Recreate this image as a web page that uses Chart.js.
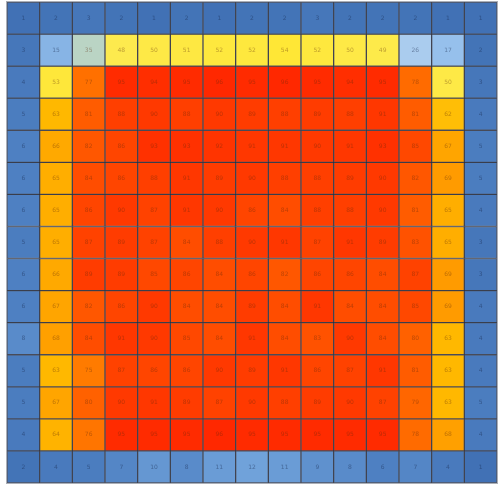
<!DOCTYPE html>
<html>
<head>
<meta charset="utf-8">
<title>Heatmap</title>
<script src="https://cdn.jsdelivr.net/npm/chart.js@4.4.1/dist/chart.umd.min.js"></script>
<style>
  html, body { margin: 0; padding: 0; background: #fff; }
  #wrap { width: 502px; height: 486px; position: relative; }
</style>
</head>
<body>
<div id="wrap"><canvas id="heat"></canvas></div>
<script>
// Grid labels (columns left to right, rows top to bottom)
const colLabels = ['C1','C2','C3','C4','C5','C6','C7','C8','C9','C10','C11','C12','C13','C14','C15'];
const rowLabels = ['R1','R2','R3','R4','R5','R6','R7','R8','R9','R10','R11','R12','R13','R14','R15'];

// Cell values, one array per row
const row1  = [1, 2, 3, 2, 1, 2, 1, 2, 2, 3, 2, 2, 2, 1, 1];
const row2  = [3, 15, 35, 48, 50, 51, 52, 52, 54, 52, 50, 49, 26, 17, 2];
const row3  = [4, 53, 77, 95, 94, 95, 96, 95, 96, 95, 94, 95, 78, 50, 3];
const row4  = [5, 63, 81, 88, 90, 88, 90, 89, 88, 89, 88, 91, 81, 62, 4];
const row5  = [6, 66, 82, 86, 93, 93, 92, 91, 91, 90, 91, 93, 85, 67, 5];
const row6  = [6, 65, 84, 86, 88, 91, 89, 90, 88, 88, 89, 90, 82, 69, 5];
const row7  = [6, 65, 86, 90, 87, 91, 90, 86, 84, 88, 88, 90, 81, 65, 4];
const row8  = [5, 65, 87, 89, 87, 84, 88, 90, 91, 87, 91, 89, 83, 65, 3];
const row9  = [6, 66, 89, 89, 85, 86, 84, 86, 82, 86, 86, 84, 87, 69, 3];
const row10 = [6, 67, 82, 86, 90, 84, 84, 89, 84, 91, 84, 84, 85, 69, 4];
const row11 = [8, 68, 84, 91, 90, 85, 84, 91, 84, 83, 90, 84, 80, 63, 4];
const row12 = [5, 63, 75, 87, 86, 86, 90, 89, 91, 86, 87, 91, 81, 63, 4];
const row13 = [5, 67, 80, 90, 91, 89, 87, 90, 88, 89, 90, 87, 79, 63, 5];
const row14 = [4, 64, 76, 95, 95, 95, 96, 95, 95, 95, 95, 95, 78, 68, 4];
const row15 = [2, 4, 5, 7, 10, 8, 11, 12, 11, 9, 8, 6, 7, 4, 1];

const rows = [row1, row2, row3, row4, row5, row6, row7, row8,
              row9, row10, row11, row12, row13, row14, row15];

// colour scale: value -> rgb
const colorStops = [
  [0,  [62, 110, 178]],
  [6,  [78, 128, 194]],
  [12, [112, 162, 218]],
  [17, [150, 192, 236]],
  [26, [170, 204, 238]],
  [35, [186, 212, 196]],
  [45, [252, 236, 90]],
  [55, [255, 230, 50]],
  [63, [255, 184, 0]],
  [70, [255, 150, 0]],
  [77, [255, 112, 0]],
  [85, [255, 72, 0]],
  [96, [255, 40, 0]]
];

function cellColor(v) {
  for (let i = 1; i < colorStops.length; i++) {
    const [v1, c1] = colorStops[i];
    const [v0, c0] = colorStops[i - 1];
    if (v <= v1) {
      const t = (v - v0) / (v1 - v0);
      const c = c0.map((x, k) => Math.round(x + (c1[k] - x) * t));
      return 'rgb(' + c.join(',') + ')';
    }
  }
  const last = colorStops[colorStops.length - 1][1];
  return 'rgb(' + last.join(',') + ')';
}

// one floating-bar dataset per row
const datasets = rows.map((vals, r) => ({
  label: rowLabels[r],
  data: vals.map(() => [r, r + 1]),
  cellValues: vals,
  backgroundColor: vals.map(cellColor),
  borderColor: 'rgba(25, 30, 45, 0.75)',
  borderWidth: 1,
  borderSkipped: false,
  barPercentage: 1,
  categoryPercentage: 1
}));

// draw the number in the middle of every cell
const cellText = {
  id: 'cellText',
  afterDatasetsDraw(chart) {
    const ctx = chart.ctx;
    ctx.save();
    ctx.font = '6px "DejaVu Sans", sans-serif';
    ctx.textAlign = 'center';
    ctx.textBaseline = 'middle';
    chart.data.datasets.forEach((ds, i) => {
      const meta = chart.getDatasetMeta(i);
      meta.data.forEach((bar, j) => {
        const v = ds.cellValues[j];
        ctx.fillStyle = v < 30 ? 'rgba(20, 35, 70, 0.45)' : 'rgba(90, 40, 10, 0.4)';
        ctx.fillText(String(v), bar.x, (bar.y + bar.base) / 2);
      });
    });
    ctx.restore();
  }
};

// light frame around the grid
const frame = {
  id: 'frame',
  afterDraw(chart) {
    const a = chart.chartArea;
    const ctx = chart.ctx;
    ctx.save();
    ctx.strokeStyle = 'rgba(150, 155, 165, 0.8)';
    ctx.lineWidth = 1;
    ctx.strokeRect(a.left - 0.5, a.top - 0.5, a.right - a.left + 1, a.bottom - a.top + 1);
    ctx.restore();
  }
};

new Chart(document.getElementById('heat'), {
  type: 'bar',
  data: { labels: colLabels, datasets: datasets },
  options: {
    responsive: true,
    maintainAspectRatio: false,
    animation: false,
    layout: { padding: { left: 7, right: 5, top: 2, bottom: 3 } },
    scales: {
      x: { display: false, stacked: true, offset: true },
      y: { display: false, min: 0, max: 15, reverse: true }
    },
    plugins: {
      legend: { display: false },
      tooltip: { enabled: false }
    }
  },
  plugins: [cellText, frame]
});
</script>
</body>
</html>
